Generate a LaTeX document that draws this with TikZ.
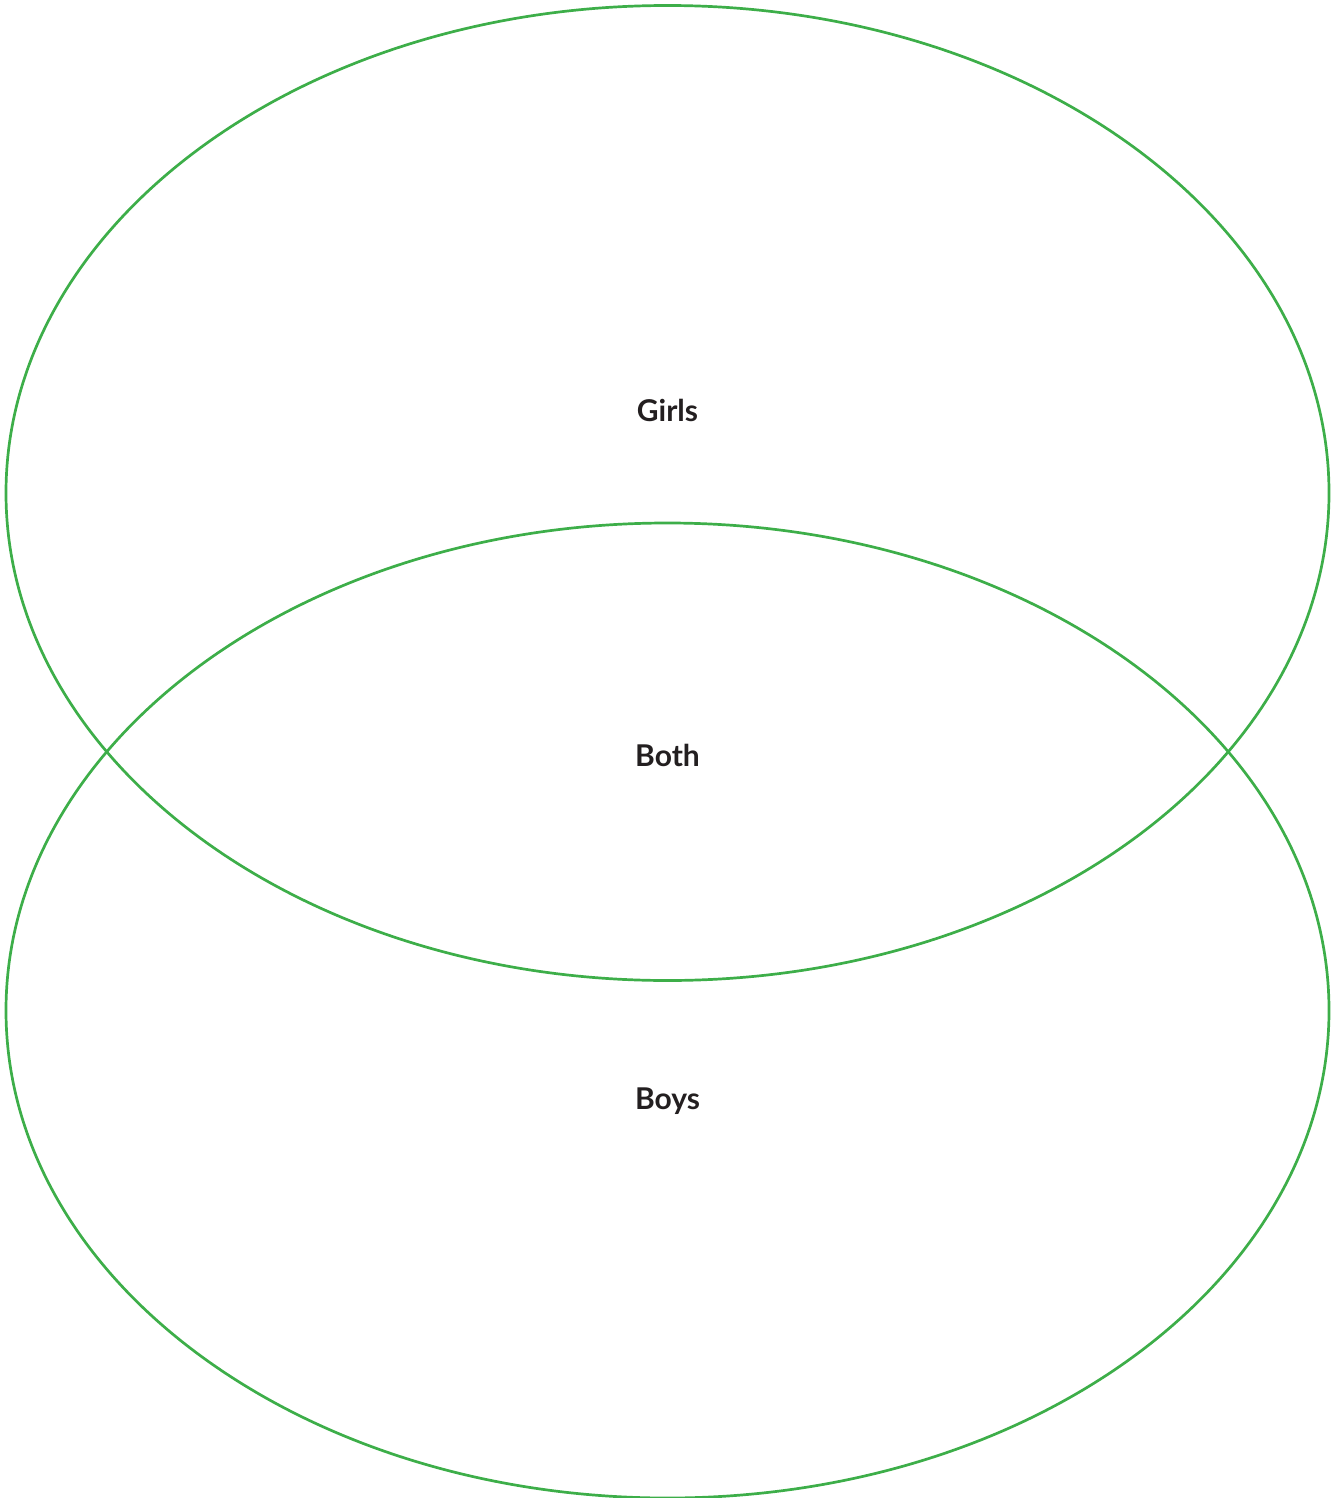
\documentclass[tikz,border=0pt]{standalone}
\usepackage{fontspec}
\setmainfont{Lato}
\definecolor{venngreen}{HTML}{3DAE49}
\definecolor{labelgray}{HTML}{231F20}
\tikzset{
  vennset/.style={draw=venngreen, line width=2.7pt, ellipse, minimum width=1323pt, minimum height=975pt, inner sep=0pt},
  vennlabel/.style={text=labelgray, font=\fontsize{30}{36}\selectfont\bfseries, inner sep=0pt}
}
\usetikzlibrary{shapes.geometric}
\begin{document}
\begin{tikzpicture}[x=1pt,y=-1pt]
\useasboundingbox (0,0) rectangle (1338,1498);
\clip (0,0) rectangle (1338,1498);
\node[vennset] (girlsset) at (667.5,493) {};
\node[vennset] (boysset) at (667.5,1010.5) {};
\node[vennlabel] (girls) at (667.5,410) {Girls};
\node[vennlabel] (both) at (667.5,755) {Both};
\node[vennlabel] (boys) at (667.5,1101) {Boys};
\end{tikzpicture}
\end{document}
